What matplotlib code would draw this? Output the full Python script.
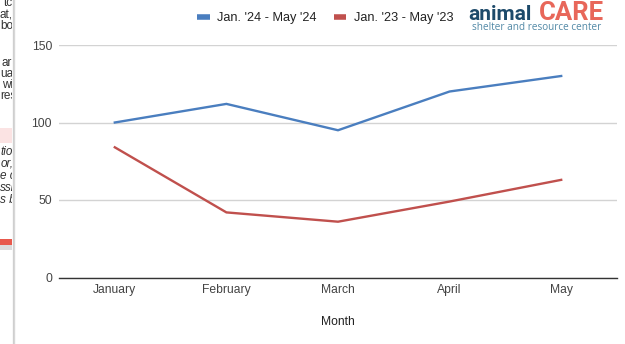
import matplotlib
matplotlib.use("Agg")
import matplotlib.pyplot as plt
from matplotlib.patches import Rectangle

plt.rcParams['font.family'] = ['Liberation Sans', 'DejaVu Sans']

months = ["January", "February", "March", "April", "May"]
series_2024 = [100, 112, 95, 120, 130]
series_2023 = [84, 42, 36, 49, 63]
label_2024 = "Jan. '24 - May '24"
label_2023 = "Jan. '23 - May '23"
y_ticks = [0, 50, 100, 150]

BLUE = "#4a7ebf"
RED = "#c0504d"

W, H = 625, 344
fig = plt.figure(figsize=(W / 100, H / 100), dpi=100)
fig.patch.set_facecolor("white")

# main chart
ax = fig.add_axes([59 / W, (H - 277.5) / H, (617 - 59) / W, (277.5 - 45) / H])
x = list(range(len(months)))
l1, = ax.plot(x, series_2024, color=BLUE, lw=1.7, label=label_2024, solid_joinstyle="miter")
l2, = ax.plot(x, series_2023, color=RED, lw=1.7, label=label_2023, solid_joinstyle="miter")
ax.set_xlim(-0.5, len(months) - 0.5)
ax.set_ylim(0, 150)
ax.set_yticks(y_ticks)
ax.set_xticks(x)
ax.set_xticklabels(months)
ax.grid(axis="y", color="#d3d3d3", lw=1.0)
ax.set_axisbelow(True)
for s in ["top", "right", "left"]:
    ax.spines[s].set_visible(False)
ax.spines["bottom"].set_color("#333333")
ax.spines["bottom"].set_linewidth(1.0)
ax.tick_params(axis="both", length=0, labelsize=8.7, labelcolor="#444444")
ax.tick_params(axis="x", pad=5)
ax.tick_params(axis="y", pad=5)
ax.set_xlabel("Month", fontsize=8.7, color="#222222", labelpad=14)

leg = fig.legend(handles=[l1, l2], loc="center left",
                 bbox_to_anchor=(197 / W, 1 - 18 / H), ncol=2, frameon=False,
                 fontsize=9.2, handlelength=1.0, handletextpad=0.6,
                 columnspacing=1.3, labelcolor="#222222", borderaxespad=0,
                 borderpad=0)
for h in leg.legend_handles:
    h.set_linewidth(4)
    h.set_solid_capstyle("butt")

# logo
fig.text(468 / W, 1 - 19.5 / H, "animal", fontsize=15, fontweight="bold",
         family="Roboto", color="#1d4a6a", va="baseline", ha="left")
fig.text(604 / W, 1 - 19.5 / H, "CARE", fontsize=18.5, fontweight="bold",
         family="Roboto", color="#e8675a", va="baseline", ha="right")
fig.text(537 / W, 1 - 28 / H, "shelter and resource center", fontsize=7.2,
         family="Open Sans", color="#5289a6", va="center", ha="center")

# neighbouring page panel on the left edge
side = fig.add_axes([0, 0, 12 / W, 1])
side.set_xlim(0, 12)
side.set_ylim(H, 0)
side.axis("off")
side.add_patch(Rectangle((0, 128), 12, 15, color="#fbe3e3", lw=0))
side.add_patch(Rectangle((0, 239), 12, 6, color="#e8594d", lw=0))
side.add_patch(Rectangle((0, 245), 12, 5, color="#dcdcdc", lw=0))
fragments = [
    ("tc", 4, 3, "normal"), ("at,", 0, 15, "normal"), ("bo", 0, 26, "normal"),
    ("ar", 2, 63, "normal"), ("ual", 0, 74, "normal"), ("wi", 2, 85, "normal"),
    ("res", 0, 96, "normal"),
    ("tio", 0, 152, "italic"), ("or,", 1, 164, "italic"), ("e c", 0, 176, "italic"),
    ("ssi", 0, 188, "italic"), ("s b", 0, 200, "italic"),
]
for txt, xx, yy, st in fragments:
    side.text(xx, yy, txt, fontsize=8.5, style=st, color="#333333",
              va="center", ha="left", clip_on=True)
for i, a in enumerate([0.35, 0.2, 0.1]):
    fig.add_artist(plt.Line2D([(12.5 + i) / W] * 2, [0, 1], color="#888888",
                              alpha=a, lw=1.0, transform=fig.transFigure))

fig.savefig("out.png", dpi=100)
